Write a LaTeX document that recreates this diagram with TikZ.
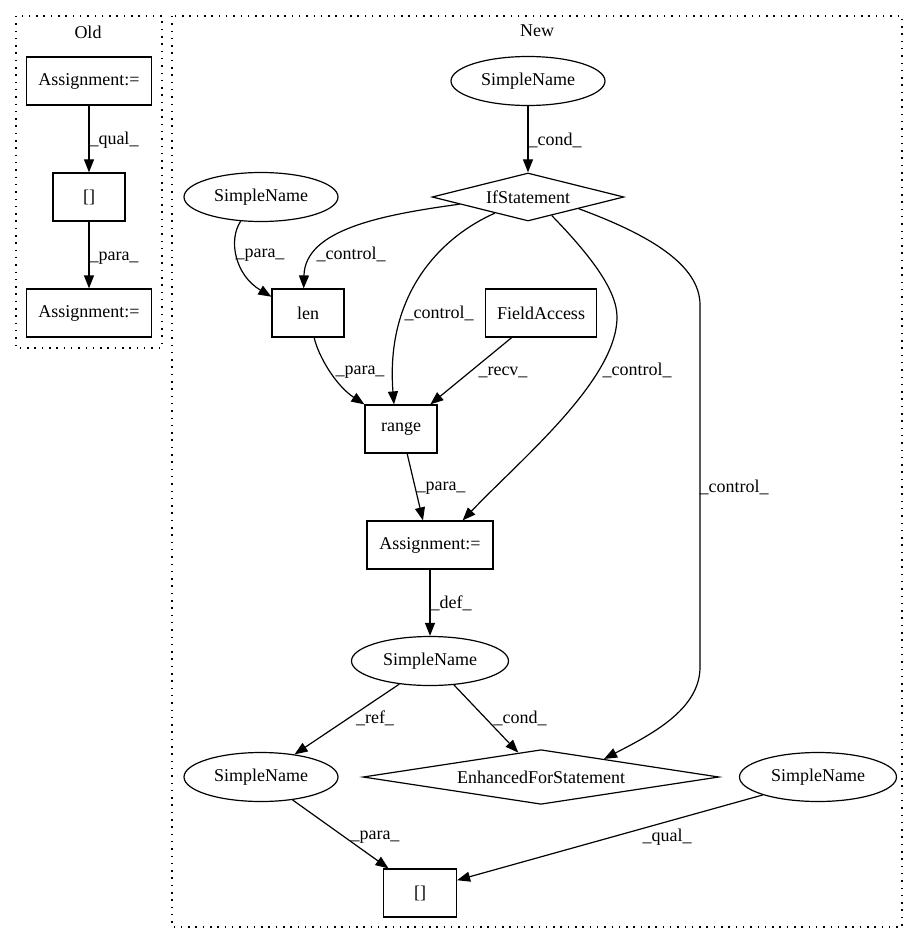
\documentclass[tikz,border=0pt]{standalone}
\usepackage{fontspec}
\setmainfont{Liberation Serif}
\usetikzlibrary{shapes.geometric,arrows.meta}
\begin{document}
\begin{tikzpicture}[x=1pt,y=-1pt,
  every node/.style={font=\fontsize{18}{21}\selectfont},
  box/.style={draw,line width=1.2pt,rectangle,minimum height=48pt,inner sep=0pt},
  ell/.style={draw,line width=1.2pt,ellipse,minimum width=154pt,minimum height=49pt,inner sep=0pt},
  dia/.style={draw,line width=1.2pt,diamond,aspect=4,minimum height=48pt,inner sep=0pt},
  edge/.style={line width=1.2pt,-{Triangle[length=13pt,width=10pt]}},
  lbl/.style={inner sep=0pt},
  clus/.style={draw,line width=1.3pt,dash pattern=on 1.5pt off 5.8pt}
]
\useasboundingbox (0,0) rectangle (917,944);
% clusters
\draw[clus] (16,16) rectangle (162,348);
\draw[clus] (172,16) rectangle (902,927);
\node[lbl] (oldl) at (88,32) {Old};
\node[lbl] (newl) at (537,31) {New};
% old nodes
\node[box,minimum width=125pt] (asgO1) at (89,81) {Assignment:=};
\node[box,minimum width=72pt] (brO) at (89,197) {[]};
\node[box,minimum width=125pt] (asgO2) at (89,313) {Assignment:=};
% new nodes
\node[ell] (sn1) at (528,81) {SimpleName};
\node[dia,minimum width=192pt] (ifs) at (528,197) {IfStatement};
\node[ell] (sn2) at (261,197) {SimpleName};
\node[box,minimum width=72pt] (len) at (308,313) {len};
\node[box,minimum width=111pt] (fa) at (541,313) {FieldAccess};
\node[box,minimum width=72pt] (rng) at (401,429) {range};
\node[box,minimum width=126pt] (asg) at (430,545) {Assignment:=};
\node[ell,minimum width=157pt] (sn3) at (430,661) {SimpleName};
\node[ell] (sn4) at (261,777) {SimpleName};
\node[dia,minimum width=356pt] (efs) at (541,777) {EnhancedForStatement};
\node[ell,minimum width=157pt] (sn5) at (818,777) {SimpleName};
\node[box,minimum width=73pt] (br2) at (420,893) {[]};
% old edges
\draw[edge] (asgO1.south) -- (brO.north);
\draw[edge] (brO.south) -- (asgO2.north);
\node[lbl] (lq1) at (114,140) {\_qual\_};
\node[lbl] (lp1) at (114,258) {\_para\_};
% new edges
\draw[edge] (sn1.south) -- (ifs.north);
\draw[edge] (ifs.186) .. controls (380,215) and (305,230) .. (len.100);
\draw[edge] (sn2.230) .. controls (228,240) and (235,275) .. (len.156);
\draw[edge] (ifs.206) .. controls (445,235) and (385,290) .. (rng.106);
\draw[edge] (fa.220) -- (rng.40);
\draw[edge] (len.-76) .. controls (318,355) and (335,385) .. (rng.north west);
\draw[edge] (ifs.-38) .. controls (590,255) and (617,290) .. (617,317) .. controls (617,380) and (520,460) .. (asg.37);
\draw[edge] (rng.-76) -- (asg.106);
\draw[edge] (ifs.-13.5) .. controls (650,235) and (700,265) .. (700,305) -- (700,667) .. controls (700,710) and (650,735) .. (efs.16);
\draw[edge] (asg.south) -- (sn3.north);
\draw[edge] (sn3.217) -- (sn4.34);
\draw[edge] (sn3.-45) -- (efs.133);
\draw[edge] (sn4.-36) -- (br2.142);
\draw[edge] (sn5.198) -- (br2.19);
% labels
\node[lbl] (lcond1) at (555,140) {\_cond\_};
\node[lbl] (lctl1) at (351,254) {\_control\_};
\node[lbl] (lpara2) at (260,255) {\_para\_};
\node[lbl] (lctl2) at (439,313) {\_control\_};
\node[lbl] (lrecv) at (503,372) {\_recv\_};
\node[lbl] (lpara3) at (360,372) {\_para\_};
\node[lbl] (lctl3) at (637,370) {\_control\_};
\node[lbl] (lctl4) at (734,487) {\_control\_};
\node[lbl] (lpara4) at (441,488) {\_para\_};
\node[lbl] (ldef) at (451,603) {\_def\_};
\node[lbl] (lref) at (375,718) {\_ref\_};
\node[lbl] (lcond2) at (520,718) {\_cond\_};
\node[lbl] (lpara5) at (375,837) {\_para\_};
\node[lbl] (lqual2) at (667,837) {\_qual\_};
\end{tikzpicture}
\end{document}
